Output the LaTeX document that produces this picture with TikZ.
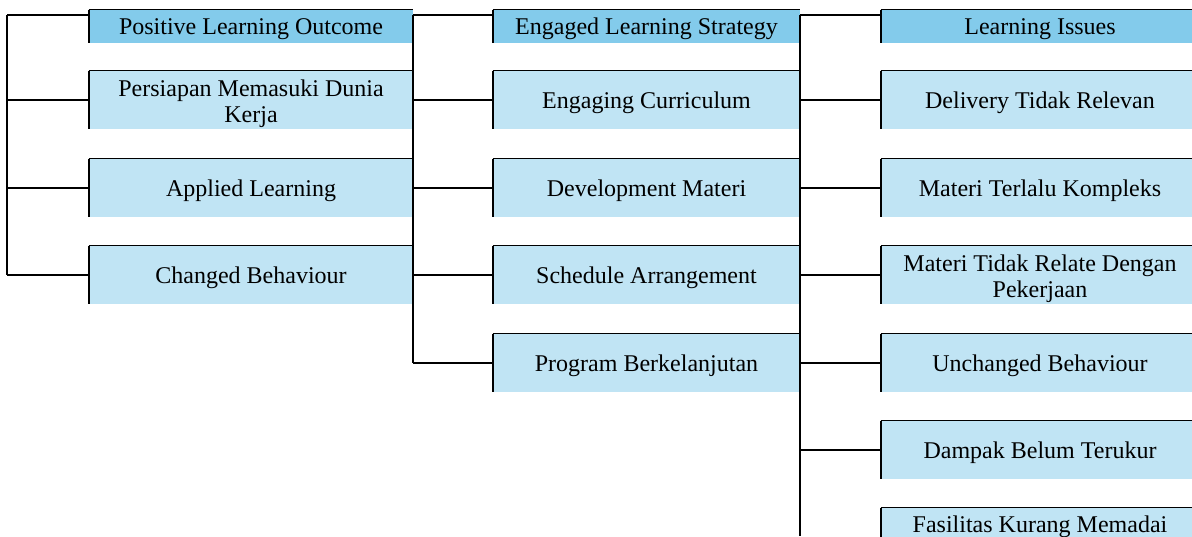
\documentclass[tikz,border=0pt]{standalone}
\usepackage{fontspec}
\setmainfont{Liberation Serif}
\definecolor{hdrblue}{HTML}{83CBEB}
\definecolor{itemblue}{HTML}{C0E4F4}
\tikzset{
	box/.style={fill=itemblue,inner sep=0pt,align=center,text height=8pt,text depth=0pt,minimum height=29pt},
	hdr/.style={box,fill=hdrblue,minimum height=16.5pt},
	twoline/.style={text height=22.5pt,text depth=0pt},
	conn/.style={line width=1.1pt},
}
\begin{document}
\begin{tikzpicture}[x=0.5pt,y=-0.5pt,line join=round,font=\fontsize{12}{13}\selectfont]
	\useasboundingbox (0,0) rectangle (1192,536);
	\clip (0,0) rectangle (1192,536);
	\path 
	(7,15) coordinate (A0) (413,15) coordinate (B0) (800,15) coordinate (C0)
	(800,536) coordinate (C9)
	;
	% column 1
	\begin{scope}[every node/.append style={minimum width=162pt}]
	\node[hdr] (P0) at (251,26.5) {Positive Learning Outcome};
	\node[box,twoline] (P1) at (251,100) {Persiapan Memasuki Dunia\\Kerja};
	\node[box] (P2) at (251,188) {Applied Learning};
	\node[box] (P3) at (251,275) {Changed Behaviour};
	\end{scope}
	% column 2
	\begin{scope}[every node/.append style={minimum width=153.5pt}]
	\node[hdr] (E0) at (646.5,26.5) {Engaged Learning Strategy};
	\node[box] (E1) at (646.5,100) {Engaging Curriculum};
	\node[box] (E2) at (646.5,188) {Development Materi};
	\node[box] (E3) at (646.5,275) {Schedule Arrangement};
	\node[box] (E4) at (646.5,363) {Program Berkelanjutan};
	\end{scope}
	% column 3
	\begin{scope}[every node/.append style={minimum width=159pt}]
	\node[hdr] (L0) at (1040,26.5) {Learning Issues};
	\node[box] (L1) at (1040,100) {Delivery Tidak Relevan};
	\node[box] (L2) at (1040,188) {Materi Terlalu Kompleks};
	\node[box,twoline] (L3) at (1040,275) {Materi Tidak Relate Dengan\\Pekerjaan};
	\node[box] (L4) at (1040,363) {Unchanged Behaviour};
	\node[box] (L5) at (1040,450) {Dampak Belum Terukur};
	\node[box,minimum height=32pt,text height=8pt,text depth=16pt] (L6) at (1040,540) {Fasilitas Kurang Memadai};
	\end{scope}
	% cell borders
	\foreach \b in {P0,P1,P2,P3,E0,E1,E2,E3,E4,L0,L1,L2,L3,L4,L5,L6}{
		\draw[line width=0.6pt] (\b.north west) -- (\b.north east);
		\draw[conn] (\b.north west) -- (\b.south west);
	}
	% trunks
	\draw[conn] (A0) -- (A0 |- P3.west);
	\draw[conn] (B0) -- (B0 |- E4.west);
	\draw[conn] (C0) -- (C9);
	\draw[conn] (P0.west |- A0) -- (A0);
	\draw[conn] (E0.west |- B0) -- (B0);
	\draw[conn] (L0.west |- C0) -- (C0);
	\foreach \b in {P1,P2,P3}
	\draw[conn] (\b.west) -- (\b.west -| A0);
	\foreach \b in {E1,E2,E3,E4}
	\draw[conn] (\b.west) -- (\b.west -| B0);
	\foreach \b in {L1,L2,L3,L4,L5,L6}
	\draw[conn] (\b.west) -- (\b.west -| C0);
\end{tikzpicture}
\end{document}
